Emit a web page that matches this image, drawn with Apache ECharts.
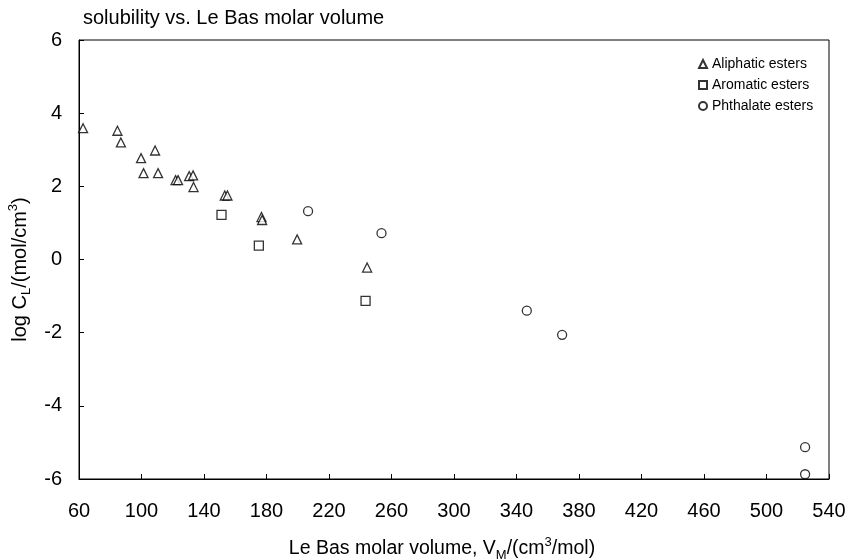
<!DOCTYPE html>
<html>
<head>
<meta charset="utf-8">
<script src="https://cdn.jsdelivr.net/npm/echarts@6/dist/echarts.min.js"></script>
<style>
html,body{margin:0;padding:0;background:#fff;}
#main{width:851px;height:560px;}
</style>
</head>
<body>
<div id="main"></div>
<script>
// Data
var aliphaticX = [62.6, 84.6, 86.8, 99.7, 108.7, 101.3, 110.6, 121.8, 123.4, 130.5, 133.0, 133.3, 153.3, 155.0, 176.8, 177.2, 199.6, 244.4];
var aliphaticY = [3.59, 3.52, 3.20, 2.77, 2.98, 2.36, 2.36, 2.17, 2.17, 2.28, 2.30, 1.98, 1.75, 1.75, 1.16, 1.08, 0.55, -0.22];
var aromaticX = [151.2, 175.1, 243.4];
var aromaticY = [1.22, 0.38, -1.13];
var phthalateX = [206.6, 253.6, 346.6, 369.2, 524.7, 524.7];
var phthalateY = [1.32, 0.72, -1.40, -2.06, -5.13, -5.87];
var seriesNames = ['Aliphatic esters', 'Aromatic esters', 'Phthalate esters'];
var xTicks = {min: 60, max: 540, interval: 40};
var yTicks = {min: -6, max: 6, interval: 2};

function pairs(xs, ys) { return xs.map(function (x, i) { return [x, ys[i]]; }); }

var FONT = 'Liberation Sans, Arial, sans-serif';
var chart = echarts.init(document.getElementById('main'), null, {renderer: 'canvas'});
function sc(name, data, symbol, size) {
  return {
    name: name, type: 'scatter', data: data, symbol: symbol, symbolSize: size,
    itemStyle: {color: '#fff', borderColor: '#000', borderWidth: 1.3},
    emphasis: {disabled: true}
  };
}
function richSet(fs) {
  return {
    s: {fontFamily: FONT, fontSize: fs, color: '#000', lineHeight: 26, verticalAlign: 'middle'},
    sub: {fontFamily: FONT, fontSize: 13, color: '#000', lineHeight: 26, verticalAlign: 'bottom'},
    sup: {fontFamily: FONT, fontSize: 13, color: '#000', lineHeight: 26, verticalAlign: 'top'}
  };
}
chart.setOption({
  animation: false,
  backgroundColor: '#fff',
  title: {
    text: 'solubility vs. Le Bas molar volume',
    left: 78, top: 3,
    textStyle: {fontFamily: FONT, fontSize: 20, fontWeight: 'normal', color: '#000'}
  },
  legend: {
    orient: 'vertical', left: 693, top: 52, itemGap: 7, itemWidth: 8, itemHeight: 8,
    textStyle: {fontFamily: FONT, fontSize: 14, color: '#000'},
    data: seriesNames
  },
  grid: {left: 79, right: 22, top: 40, bottom: 81, show: true, borderColor: '#000', borderWidth: 1,
         containLabel: false, outerBoundsMode: 'none'},
  xAxis: {
    type: 'value', min: xTicks.min, max: xTicks.max, interval: xTicks.interval,
    splitLine: {show: false},
    axisLine: {onZero: false, lineStyle: {color: '#000', width: 1}},
    axisTick: {inside: true, length: 5, lineStyle: {color: '#000'}},
    axisLabel: {margin: 22, fontFamily: FONT, fontSize: 20, color: '#000'},
    name: '{s|Le Bas molar volume, V}{sub|M}{s|/(cm}{sup|3}{s|/mol)}',
    nameLocation: 'middle', nameGap: 57,
    nameTextStyle: {
      fontFamily: FONT, fontSize: 19.5, color: '#000', padding: [0, 24, 0, 0],
      rich: richSet(19.5)
    }
  },
  yAxis: {
    type: 'value', min: yTicks.min, max: yTicks.max, interval: yTicks.interval,
    splitLine: {show: false},
    axisLine: {show: true, onZero: false, lineStyle: {color: '#000', width: 1}},
    axisTick: {show: true, inside: true, length: 5, lineStyle: {color: '#000'}},
    axisLabel: {margin: 17, fontFamily: FONT, fontSize: 20, color: '#000'},
    name: '{s|log C}{sub|L}{s|/(mol/cm}{sup|3}{s|)}',
    nameLocation: 'middle', nameGap: 46, nameRotate: 90,
    nameTextStyle: {
      fontFamily: FONT, fontSize: 20, color: '#000', padding: [0, 20, 0, 0],
      rich: richSet(20)
    }
  },
  series: [
    sc(seriesNames[0], pairs(aliphaticX, aliphaticY), 'triangle', 9),
    sc(seriesNames[1], pairs(aromaticX, aromaticY), 'rect', 9),
    sc(seriesNames[2], pairs(phthalateX, phthalateY), 'circle', 9)
  ]
});
</script>
</body>
</html>
